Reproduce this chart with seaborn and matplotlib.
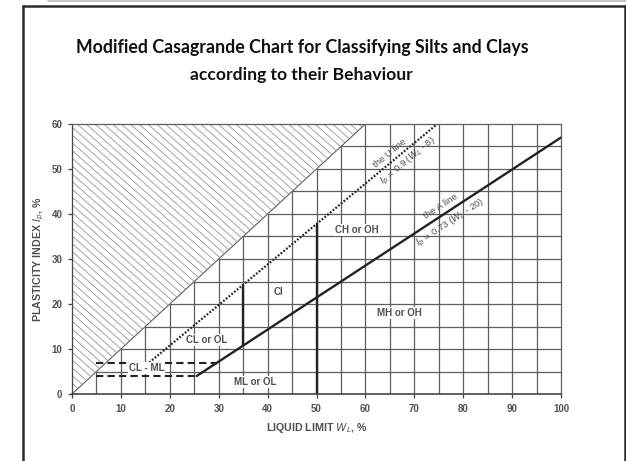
import numpy as np
import matplotlib
matplotlib.use("Agg")
import matplotlib.pyplot as plt
from matplotlib.lines import Line2D
from matplotlib.patches import Polygon
import pandas as pd
import seaborn as sns

# chart data (liquid limit W_L vs plasticity index I_p)
a_line_wl = [25.5, 100]
a_line_ip = [4.0, 57.0]
u_line_wl = [15.8, 74.7]
u_line_ip = [7.0, 60.0]
upper_dash_wl = [5, 29.6]
upper_dash_ip = [7, 7]
lower_dash_wl = [5, 25.5]
lower_dash_ip = [4, 4]
divider_wl = [35, 50]
divider_bottom = [11.0, 0.0]
divider_top = [24.3, 37.8]

zone_names = ["CL - ML", "CL or OL", "ML or OL", "CI", "CH or OH", "MH or OH"]
zone_wl = [15.3, 27.6, 37.4, 42.2, 58.3, 67.0]
zone_ip = [5.7, 12.0, 2.7, 22.7, 36.4, 18.0]

# line captions: text, line it belongs to, W_L along the line, side (+1 above)
caption_text = ["the U line", r"$I_p$ = 0.9 ($W_L$ - 8)",
                "the A line", r"$I_p$ = 0.73 ($W_L$ - 20)"]
caption_line = ["U", "U", "A", "A"]
caption_wl = [66.0, 67.5, 76.3, 76.2]
caption_side = [1, -1, 1, -1]

x_ticks = [0, 10, 20, 30, 40, 50, 60, 70, 80, 90, 100]
y_ticks = [0, 10, 20, 30, 40, 50, 60]

INK = "#222222"
GRID = "#5e5e5e"
TXT = "#505050"

sns.set_style("white")
plt.rcParams['font.family'] = ['Liberation Sans', 'DejaVu Sans']

fig = plt.figure(figsize=(6.26, 4.61), dpi=100)
ax = fig.add_axes([72 / 626, 67 / 461, 489 / 626, 270 / 461])
ax.set_xlim(0, 100)
ax.set_ylim(0, 60)

# grid only below the W_L = I_p line
for gx in range(5, 100, 5):
    ax.plot([gx, gx], [0, min(gx, 60)], color=GRID, lw=0.9, zorder=1)
for gy in range(5, 60, 5):
    ax.plot([gy, 100], [gy, gy], color=GRID, lw=0.9, zorder=1)
ax.plot([0, 60], [0, 60], color=GRID, lw=0.8, zorder=1)

# hatched area above the line
tri = Polygon([[0, 0], [60, 60], [0, 60]], closed=True, facecolor="none",
              edgecolor="none", transform=ax.transData)
ax.add_patch(tri)
for c in np.arange(-10, 140, 1.8):
    hl, = ax.plot([c - 80, c + 87], [80, -80], color="#959595", lw=0.6, zorder=1)
    hl.set_clip_path(tri)

# classification lines
lines = pd.DataFrame({"wl": a_line_wl, "ip": a_line_ip})
sns.lineplot(data=lines, x="wl", y="ip", color=INK, lw=1.7, ax=ax, zorder=4)
sns.lineplot(x=u_line_wl, y=u_line_ip, color=INK, lw=1.6, ls=(0, (0.8, 0.8)),
             ax=ax, zorder=4)
sns.lineplot(x=upper_dash_wl, y=upper_dash_ip, color=INK, lw=1.5,
             ls=(0, (3.5, 2)), ax=ax, zorder=4)
sns.lineplot(x=lower_dash_wl, y=lower_dash_ip, color=INK, lw=1.5,
             ls=(0, (3.5, 2)), ax=ax, zorder=4)
ax.vlines(divider_wl, divider_bottom, divider_top, color=INK, lw=1.7, zorder=4)

for name, x, y in zip(zone_names, zone_wl, zone_ip):
    ax.text(x, y, name, ha="center", va="center", fontsize=7, color=TXT,
            fontweight="bold", zorder=5,
            bbox=dict(facecolor="white", edgecolor="none", pad=0.6))

line_pts = {"U": (u_line_wl, u_line_ip), "A": (a_line_wl, a_line_ip)}
for text, key, wl, side in zip(caption_text, caption_line, caption_wl, caption_side):
    xs, ys = line_pts[key]
    p = ax.transData.transform(np.column_stack([xs, ys]))
    ang = np.arctan2(p[1, 1] - p[0, 1], p[1, 0] - p[0, 0])
    ip = np.interp(wl, xs, ys)
    d = (5.8 if side > 0 else 7.5) * side
    ax.annotate(text, (wl, ip), xytext=(-np.sin(ang) * d, np.cos(ang) * d),
                textcoords="offset points", rotation=np.degrees(ang),
                rotation_mode="anchor", ha="center", va="center",
                fontsize=6.8, color=TXT, zorder=5)

for s in ax.spines.values():
    s.set_color(GRID)
    s.set_linewidth(0.9)
ax.spines["bottom"].set_color("#444444")
ax.spines["bottom"].set_linewidth(1.2)
ax.spines["left"].set_color("#444444")

ax.set_xticks(x_ticks)
ax.set_yticks(y_ticks)
ax.tick_params(axis="both", length=3, width=0.9, color="#444444",
               labelsize=7, labelcolor=TXT, pad=4, direction="out")
ax.tick_params(bottom=True, left=True)
for lab in ax.get_xticklabels() + ax.get_yticklabels():
    lab.set_fontweight("bold")
ax.set_xlabel(r"LIQUID LIMIT $W_L$, %", fontsize=7.7, color=TXT,
              fontweight="bold", labelpad=5)
ax.set_ylabel(r"PLASTICITY INDEX $I_p$, %", fontsize=7.7, color=TXT,
              fontweight="bold", labelpad=4)

fig.text(0.483, 0.898, "Modified Casagrande Chart for Classifying Silts and Clays",
         ha="center", va="center", fontsize=12.8, fontweight="bold",
         family=["Lato", "DejaVu Sans"], color="#111111")
fig.text(0.481, 0.837, "according to their Behaviour",
         ha="center", va="center", fontsize=12.6, fontweight="bold",
         family=["Lato", "DejaVu Sans"], color="#111111")

# slide frame
fig.add_artist(Line2D([23 / 626, 23 / 626], [0, 1 - 6 / 461], color="#2e2a24",
                      lw=1.8, transform=fig.transFigure))
fig.add_artist(Line2D([23 / 626, 624.5 / 626], [1 - 6 / 461, 1 - 6 / 461],
                      color="#2e2a24", lw=1.8, transform=fig.transFigure))
fig.add_artist(Line2D([624.5 / 626, 624.5 / 626], [0, 1 - 6 / 461],
                      color="#2e2a24", lw=1.8, transform=fig.transFigure))
fig.add_artist(Line2D([48 / 626, 1], [1 - 1 / 461, 1 - 1 / 461],
                      color="#bbbbbb", lw=1.2, transform=fig.transFigure))

fig.savefig("out.png", dpi=100)
